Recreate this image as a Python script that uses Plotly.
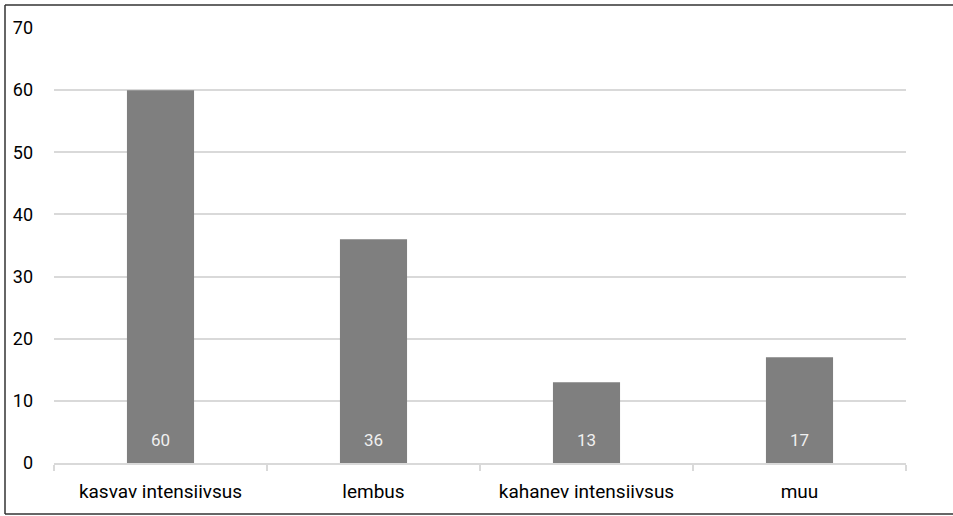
import plotly.graph_objects as go

categories = ["kasvav intensiivsus", "lembus", "kahanev intensiivsus", "muu"]
values = [60, 36, 13, 17]
y_ticks = [0, 10, 20, 30, 40, 50, 60, 70]

W, H = 953, 516
ml, mr, mt, mb = 54, 47, 28, 53
pw, ph = W - ml - mr, H - mt - mb

fig = go.Figure(go.Bar(
    x=categories, y=values,
    marker=dict(color="#7f7f7f", line=dict(width=0)),
    hoverinfo="x+y",
))

annotations = [
    dict(x=c, y=0, xref="x", yref="y", text=str(v), showarrow=False,
         yanchor="middle", yshift=23,
         font=dict(color="#f0f0f0", size=17, family="Roboto"))
    for c, v in zip(categories, values)
]

# outer frame: left, top, bottom edges (right edge falls outside the image)
bx0, by0, by1 = (5 - ml) / pw, (H - mb - 514) / ph, (H - mb - 5) / ph
bx1 = (W + 20 - ml) / pw
frame = dict(color="#333333", width=1.5)
shapes = [
    dict(type="line", xref="paper", yref="paper", x0=bx0, x1=bx0, y0=by0, y1=by1, line=frame),
    dict(type="line", xref="paper", yref="paper", x0=bx0, x1=bx1, y0=by1, y1=by1, line=frame),
    dict(type="line", xref="paper", yref="paper", x0=bx0, x1=bx1, y0=by0, y1=by0, line=frame),
]

fig.update_layout(
    width=W, height=H,
    margin=dict(l=ml, r=mr, t=mt, b=mb),
    paper_bgcolor="white", plot_bgcolor="white",
    bargap=0.685,
    showlegend=False,
    font=dict(family="Roboto", size=18, color="#000000"),
    xaxis=dict(
        showline=True, linecolor="#d9d9d9", linewidth=1.5,
        ticks="outside", tickson="boundaries", ticklen=6, tickcolor="#d9d9d9", tickwidth=1.5,
        showgrid=False, tickfont=dict(size=19, color="#000"),
        ticklabelstandoff=10,
    ),
    yaxis=dict(
        range=[0, 70], tickvals=y_ticks,
        showgrid=True, gridcolor="#d9d9d9", gridwidth=1.5,
        zeroline=False, showline=False,
        tickfont=dict(size=18, color="#000"),
        ticklabelstandoff=20,
    ),
    annotations=annotations,
    shapes=shapes,
)

fig.write_html(
    "out.html",
    config={"displayModeBar": False},
    post_script="document.body.style.margin='0';document.body.style.overflow='hidden';",
)
